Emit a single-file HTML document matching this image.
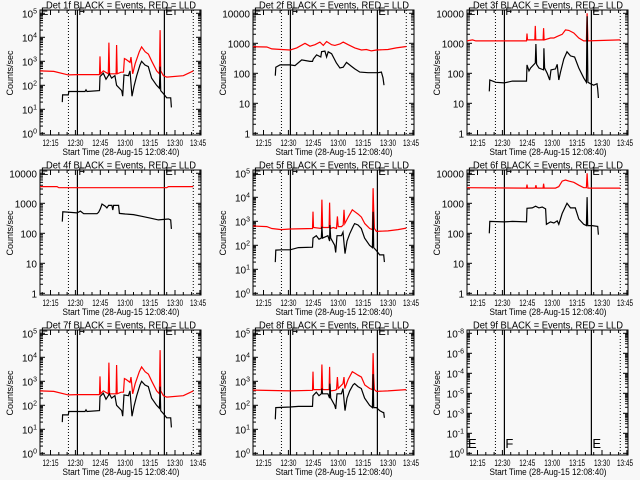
<!DOCTYPE html>
<html><head><meta charset="utf-8"><style>
html,body{margin:0;padding:0;background:#f8f8f8;}
svg{display:block;font-family:"Liberation Sans",sans-serif;}
</style></head><body>
<svg id="c" width="640" height="480" viewBox="0 0 640 480"></svg>
<script>
// times in minutes after 12:00
const xTickLabels = ["12:15","12:30","12:45","13:00","13:15","13:30","13:45"];
const xTickTimes = [15,30,45,60,75,90,105];
const markerTimesDotted = [25.8,101];
const markerTimesSolid = [31.2,83.6];
const panelNames = ["1f","2f","3f","4f","5f","6f","7f","8f","9f"];

const p1BlackT=[22.1,22.3,25.7,26,35.8,36.4,37,44.5,44.8,46.8,48.4,49.8,50.4,51.8,53.8,54.8,57.9,58.5,59.3,61.9,62.9,64.1,65.3,66.9,68.9,69.9,71.9,73.9,75.9,78.9,80.6,81,81.4,83,85,87.4,87.8];
const p1BlackV=[20,40,40,55,55,65,55,60,230,320,180,250,300,200,250,100,60,35,270,250,400,35,90,250,700,1000,700,600,200,100,75,600,60,45,30,30,12];
const p1RedT=[8.67,17,25.7,31,44.5,44.8,45.1,46.8,49.8,50.2,50.6,54.5,54.8,55.2,57.5,59,59.5,60.5,62.9,63.5,64.5,66,68.5,69.9,72,74,76,79,80.6,81,81.4,83,85,95,101];
const p1RedV=[400,380,270,280,280,1600,300,400,300,6000,300,300,4800,300,350,350,1300,1200,900,1500,300,800,2500,4000,2500,2000,1000,400,300,20000,400,250,220,250,400];

const p2BlackT=[22.1,22.4,25,31,34,38,43,44.5,45,47,49.5,50,52,53,54,56,58.9,61,63,65,68,70,73,78,84,86,87,87.6];
const p2BlackV=[83,160,190,190,180,280,250,250,300,410,350,530,550,350,520,450,220,150,160,230,170,140,110,105,105,110,70,40];
const p2RedT=[8.67,17,20,25.7,31,35,40,43,46,49,51,53,56,58,61,63,66,70,74,77,80,83,90,95,101];
const p2RedV=[770,750,650,620,600,700,1000,800,900,1100,850,1150,900,850,950,1100,900,700,600,620,560,600,620,700,780];

const p3BlackT=[22.1,22.4,26,31,36,44.5,44.8,46,47,49.8,50.2,50.6,52,54.8,55,55.4,57,58.5,59.3,62,63,64,65,67,68.9,71,73.5,76,79,80.6,81,81.5,83,85,87,87.4,87.8];
const p3BlackV=[25,60,50,48,55,55,190,120,150,220,950,200,150,130,680,150,100,60,130,140,200,60,110,300,520,380,350,150,70,50,8000,50,45,40,45,30,15];
const p3RedT=[8.67,12,14,44.5,44.8,45.1,49.5,49.8,50.1,54.5,54.8,55.1,59,61,63,66,68,70,73,76,79,80.6,81,81.5,101];
const p3RedV=[1200,1300,1200,1200,2100,1300,1300,3800,1300,1300,3200,1300,1500,1500,1700,2000,2800,2700,2200,1500,1200,1200,10000,1200,1300];

const p4BlackT=[22.1,22.4,31,33,35,43,44,45,46,48,49,50,52,52.5,53,56,56.5,60,65,70,75,80,86,87.4,87.8];
const p4BlackV=[245,520,480,550,450,450,500,650,950,800,700,850,850,600,850,850,460,440,420,370,320,280,300,280,140];
const p4RedT=[8.67,19,20,85,86,101];
const p4RedV=[3600,3600,3300,3300,3600,3600];

const p5BlackT=[22.1,22.4,26,31,36,44.5,44.8,46.8,48.4,49.8,50.2,50.6,53.8,54.8,55,55.5,57.9,58.5,59.3,61.9,62.9,64.1,65.3,66.9,68.9,69.9,71.9,73.9,75.9,78.9,80.6,81,81.4,83,85,87.4,87.8];
const p5BlackV=[20,63,65,65,80,83,200,250,180,200,600,200,250,150,700,200,100,50,250,250,350,45,150,300,600,800,700,500,200,100,80,2500,80,60,40,40,20];
const p5RedT=[8.67,17,20,25.7,31,44.5,44.8,45.1,49.8,50.2,50.6,54.5,54.8,55.2,57,59,59.5,60,62,63,63.5,64,66,68.5,70,72,74,76,79,80.6,81,81.4,81.8,83,90,96,101];
const p5RedV=[640,600,500,450,480,500,2500,550,500,8000,550,550,6000,500,550,500,1600,600,600,700,3000,800,1500,3000,2500,2000,1500,800,500,450,24000,3000,500,380,400,450,520];

const p6BlackT=[22.1,22.4,31,36,44.5,44.8,48,50,52,54,56,56.5,59,61,63,64,66,68.9,71,73.9,76,79,80.6,81,81.4,84,87.4,87.8];
const p6BlackV=[100,250,240,250,240,680,700,800,700,750,650,200,240,220,260,200,460,1000,700,700,300,200,180,1600,180,180,170,90];
const p6RedT=[8.67,44.5,44.8,45.1,49.8,50.2,50.6,54.5,54.8,55.2,62,64,66,68,70,73,76,79,80.6,81,81.5,101];
const p6RedV=[3300,3200,4200,3200,3200,4000,3200,3200,4500,3200,3200,3600,5500,6000,5500,5000,4000,3300,3300,10000,3200,3200];

const p7BlackT=[22.1,22.3,25.7,26,35.8,36.4,37,44.5,44.8,46.8,48.4,49.8,50.4,51.8,53.8,54.8,57.9,58.5,59.3,61.9,62.9,64.1,65.3,66.9,68.9,69.9,71.9,73.9,75.9,78.9,80.6,81,81.4,83,85,87.4,87.8];
const p7BlackV=[20,40,40,55,55,65,55,60,230,320,180,250,300,200,250,100,60,35,270,250,400,35,90,250,700,1000,700,600,200,100,75,600,60,45,30,30,12];
const p7RedT=[8.67,17,25.7,31,44.5,44.8,45.1,46.8,49.8,50.2,50.6,54.5,54.8,55.2,57.5,59,59.5,60.5,62.9,63.5,64.5,66,68.5,69.9,72,74,76,79,80.6,81,81.4,83,85,95,101];
const p7RedV=[400,380,270,280,280,1600,300,400,300,6000,300,300,4800,300,350,350,1300,1200,900,1500,300,800,2500,4000,2500,2000,1000,400,300,20000,400,250,220,250,400];

const p8BlackT=[22.1,22.4,31,36,44.5,44.8,46.8,48.4,49.8,50.2,50.6,53.8,54.8,55,55.5,57.9,58.5,59.3,61.9,62.9,64.1,65.3,66.9,68.9,69.9,71.9,73.9,75.9,78.9,80.6,81,81.4,83,85,87,87.4,87.8];
const p8BlackV=[26,80,85,90,90,250,350,250,300,500,300,300,200,800,200,100,70,300,300,500,60,200,400,700,800,600,500,200,100,80,2000,80,80,60,50,50,30];
const p8RedT=[8.67,31,44.5,44.8,45.1,49.8,50.2,50.6,54.5,54.8,55.2,58,59,59.5,60,62.9,63.5,64,66,68.5,70,72,74,76,79,80.6,81,81.4,81.8,83,90,101];
const p8RedV=[430,400,420,2500,450,450,5000,450,450,4000,400,420,450,1500,500,800,1500,500,1200,2500,2200,1800,1500,700,500,450,15000,1500,450,380,400,450];

const decLogLabels=[0,1,2,3,4,5];
const linLabels=["1","10","100","1000","10000"];
const p9Exps=["0","-1","-3","-5","-4","-6","-8"];

const NS="http://www.w3.org/2000/svg";
const svg=document.getElementById('c');
function mk(tag,attrs,parent){const e=document.createElementNS(NS,tag);for(const k in attrs)e.setAttribute(k,attrs[k]);(parent||svg).appendChild(e);return e;}

const panels=[
 {bt:p1BlackT,bv:p1BlackV,rt:p1RedT,rv:p1RedV,type:"exp"},
 {bt:p2BlackT,bv:p2BlackV,rt:p2RedT,rv:p2RedV,type:"lin"},
 {bt:p3BlackT,bv:p3BlackV,rt:p3RedT,rv:p3RedV,type:"lin"},
 {bt:p4BlackT,bv:p4BlackV,rt:p4RedT,rv:p4RedV,type:"lin"},
 {bt:p5BlackT,bv:p5BlackV,rt:p5RedT,rv:p5RedV,type:"exp"},
 {bt:p6BlackT,bv:p6BlackV,rt:p6RedT,rv:p6RedV,type:"lin"},
 {bt:p7BlackT,bv:p7BlackV,rt:p7RedT,rv:p7RedV,type:"exp"},
 {bt:p8BlackT,bv:p8BlackV,rt:p8RedT,rv:p8RedV,type:"exp"},
 {bt:[],bv:[],rt:[],rv:[],type:"p9"}
];
const colX=[0,213,427], rowY=[0,160,320];

panels.forEach((p,i)=>{
 const ox=colX[i%3], oy=rowY[Math.floor(i/3)];
 const L=ox+40,R=ox+201,T=oy+10,B=oy+135;
 const g=mk('g',{});
 
 
 const xs=t=>L+(t-8.67)*1.66;
 const dec=p.type==="exp"?24:(p.type==="lin"?30:20);
 const y0=oy+133.3;
 const ys=v=>y0-Math.log10(v)*dec;
 const cid='clip'+i;
 const cp=mk('clipPath',{id:cid},g); mk('rect',{x:L,y:T,width:R-L,height:B-T},cp);
 const tt=mk('text',{x:ox+121,y:oy+8.5,'font-size':10,'text-anchor':'middle',fill:'#000',textLength:150,lengthAdjust:'spacingAndGlyphs'},g);
 tt.textContent="Det "+panelNames[i]+" BLACK = Events, RED = LLD";
 
 
 const fr=mk('rect',{x:L,y:T,width:R-L,height:B-T,fill:'none',stroke:'#000','stroke-width':1},g);
 
 
 xTickTimes.forEach((t,k)=>{
  const x=xs(t);
  if(x<=R){mk('line',{x1:x,y1:B,x2:x,y2:B-5,stroke:'#000'},g);mk('line',{x1:x,y1:T,x2:x,y2:T+5,stroke:'#000'},g);}
  for(let m=1;m<3;m++){const xm=xs(t-15+m*5);if(xm>L&&xm<R){mk('line',{x1:xm,y1:B,x2:xm,y2:B-3,stroke:'#000'},g);mk('line',{x1:xm,y1:T,x2:xm,y2:T+3,stroke:'#000'},g);}}
  const lx=Math.min(x,ox+198);
  const tl=mk('text',{x:lx,y:oy+146,'font-size':9,'text-anchor':'middle',textLength:16,lengthAdjust:'spacingAndGlyphs'},g);
  tl.textContent=xTickLabels[k];
  
  
 });
 const xt=mk('text',{x:ox+121,y:oy+155,'font-size':9.5,'text-anchor':'middle',textLength:117,lengthAdjust:'spacingAndGlyphs'},g);
 xt.textContent="Start Time (28-Aug-15 12:08:40)";
 
 
 const yt=mk('text',{x:0,y:0,'font-size':9,'text-anchor':'middle',transform:`translate(${ox+13},${oy+73}) rotate(-90)`},g);
 yt.textContent="Counts/sec";
 
 
 const nDec=p.type==="exp"?5:(p.type==="lin"?4:6);
 for(let d=0;d<=nDec;d++){
  const y=y0-d*dec;
  mk('line',{x1:L,y1:y,x2:L+5,y2:y,stroke:'#000'},g);
  mk('line',{x1:R,y1:y,x2:R-5,y2:y,stroke:'#000'},g);
  if(d<nDec)for(let m=2;m<10;m++){const ym=y-Math.log10(m)*dec;mk('line',{x1:L,y1:ym,x2:L+3,y2:ym,stroke:'#000'},g);mk('line',{x1:R,y1:ym,x2:R-3,y2:ym,stroke:'#000'},g);}
  const lab=mk('text',{x:ox+37,y:y+4,'font-size':10,'text-anchor':'end'},g);
  
  
  if(p.type==="lin"){lab.textContent=linLabels[d];}
  else{
   const ex=p.type==="exp"?String(decLogLabels[d]):p9Exps[d];
   lab.textContent="10";
   const sp=mk('tspan',{dy:-4,'font-size':7},lab);sp.textContent=ex;
  }
 }
 markerTimesDotted.forEach(t=>{const l=mk('line',{x1:xs(t),y1:T,x2:xs(t),y2:B,stroke:'#000','stroke-dasharray':'1,2'},g);
  
  });
 markerTimesSolid.forEach(t=>{const l=mk('line',{x1:xs(t),y1:T,x2:xs(t),y2:B,stroke:'#000','stroke-width':1.2},g);
  
  });
 const mY=p.type==="p9"?oy+128:oy+15;
 const mS=p.type==="p9"?13:11;
 [[L+1,"E"],[xs(markerTimesSolid[0])+1,"F"],[xs(markerTimesSolid[1])+1,"E"]].forEach(([x,s])=>{
  const m=mk('text',{x:x,y:mY,'font-size':mS,fill:'#000'},g);m.textContent=s;
  
  
 });
 function line(ts,vs,col,name){
  if(!ts.length)return;
  const pts=ts.map((t,k)=>xs(t).toFixed(1)+","+ys(vs[k]).toFixed(1)).join(" ");
  const pl=mk('polyline',{points:pts,fill:'none',stroke:col,'stroke-width':1.2,'clip-path':`url(#${cid})`},g);
  
  
 }
 line(p.rt,p.rv,'#ff0000','lld-series-red');
 line(p.bt,p.bv,'#000000','events-series-black');
});
</script>
</body></html>
